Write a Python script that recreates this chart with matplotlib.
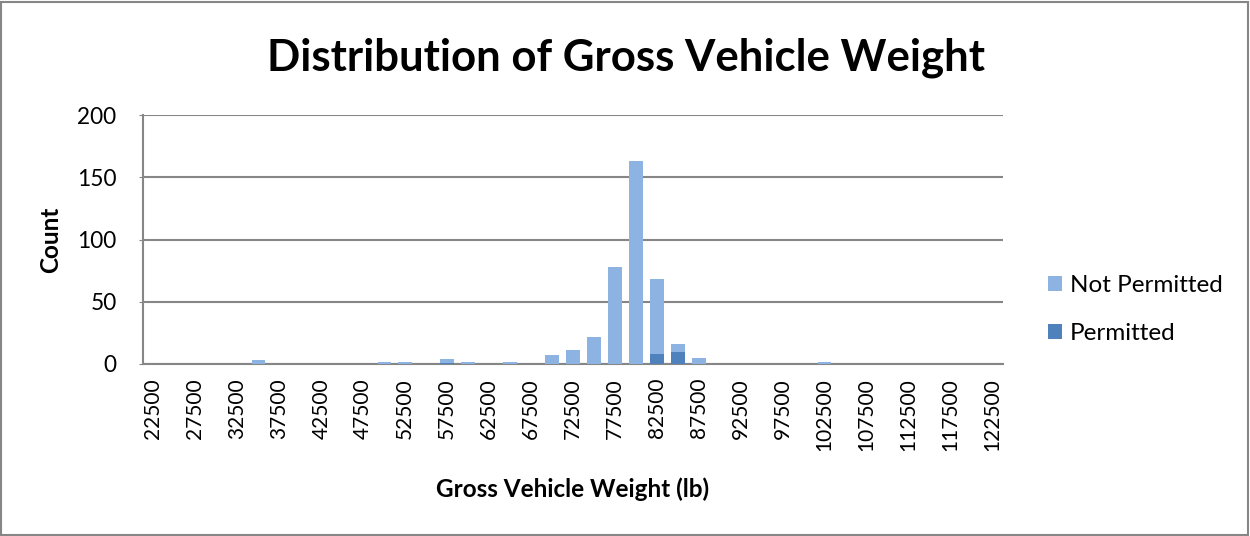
import matplotlib
matplotlib.use("Agg")
import matplotlib.pyplot as plt
from matplotlib.patches import Rectangle

# weight bins (lb), 2500 lb wide
bins = [22500, 25000, 27500, 30000, 32500, 35000, 37500, 40000, 42500, 45000,
        47500, 50000, 52500, 55000, 57500, 60000, 62500, 65000, 67500, 70000,
        72500, 75000, 77500, 80000, 82500, 85000, 87500, 90000, 92500, 95000,
        97500, 100000, 102500, 105000, 107500, 110000, 112500, 115000, 117500,
        120000, 122500]

not_permitted = [0, 0, 0, 0, 0, 3, 0, 0, 0, 0,
                 0, 2, 2, 0, 3, 2, 0, 2, 0, 7,
                 11, 22, 78, 163, 60, 6, 5, 0, 0, 0,
                 0, 0, 2, 0, 0, 0, 0, 0, 0, 0, 0]
permitted = [0, 0, 0, 0, 0, 0, 0, 0, 0, 0,
             0, 0, 0, 0, 1, 0, 0, 0, 0, 0,
             0, 0, 0, 0, 8, 10, 0, 0, 0, 0,
             0, 0, 0, 0, 0, 0, 0, 0, 0, 0, 0]

plt.rcParams['font.family'] = ['Lato', 'DejaVu Sans']

fig = plt.figure(figsize=(12.5, 5.36), dpi=100)
ax = fig.add_axes([0.1144, 0.3209, 0.688, 0.4645])

x = list(range(len(bins)))
ax.bar(x, permitted, width=0.64, color='#4F81BD', label='Permitted', zorder=3)
ax.bar(x, not_permitted, width=0.64, bottom=permitted, color='#8DB3E2',
       label='Not Permitted', zorder=3)

ax.set_xlim(-0.5, len(bins) - 0.5)
ax.set_ylim(0, 200)
ax.set_yticks([0, 50, 100, 150, 200])
ax.set_xticks(x[::2])
ax.set_xticklabels([str(b) for b in bins[::2]], rotation=90, fontsize=15)
ax.tick_params(axis='y', labelsize=16.3, length=3, color='#868686', pad=16)
ax.tick_params(axis='x', length=0, pad=10)

ax.grid(axis='y', color='#868686', linewidth=1.5, zorder=0)
for s in ['top', 'right']:
    ax.spines[s].set_visible(False)
for s in ['left', 'bottom']:
    ax.spines[s].set_color('#868686')
    ax.spines[s].set_linewidth(1.5)

ax.set_ylabel('Count', fontsize=17.5, fontweight='bold')
ax.yaxis.set_label_coords(-0.094, 0.5)
ax.set_xlabel('Gross Vehicle Weight (lb)', fontsize=17.5, fontweight='bold')
ax.xaxis.set_label_coords(0.499, -0.454)
fig.text(0.501, 1 - 70 / 536, 'Distribution of Gross Vehicle Weight', fontsize=31.5,
         fontweight='bold', ha='center', va='baseline')

handles, labels = ax.get_legend_handles_labels()
fig.legend(handles[::-1], labels[::-1], loc='center left', bbox_to_anchor=(0.8384, 0.4226),
           frameon=False, fontsize=17.5, handlelength=0.58, handleheight=0.58,
           handletextpad=0.33, labelspacing=1.1, borderpad=0, borderaxespad=0)

fig.patches.append(Rectangle((0.001, 0.002), 0.997, 0.995, transform=fig.transFigure,
                             fill=False, edgecolor='#868686', linewidth=1.5))

fig.savefig('out.png', dpi=100)
